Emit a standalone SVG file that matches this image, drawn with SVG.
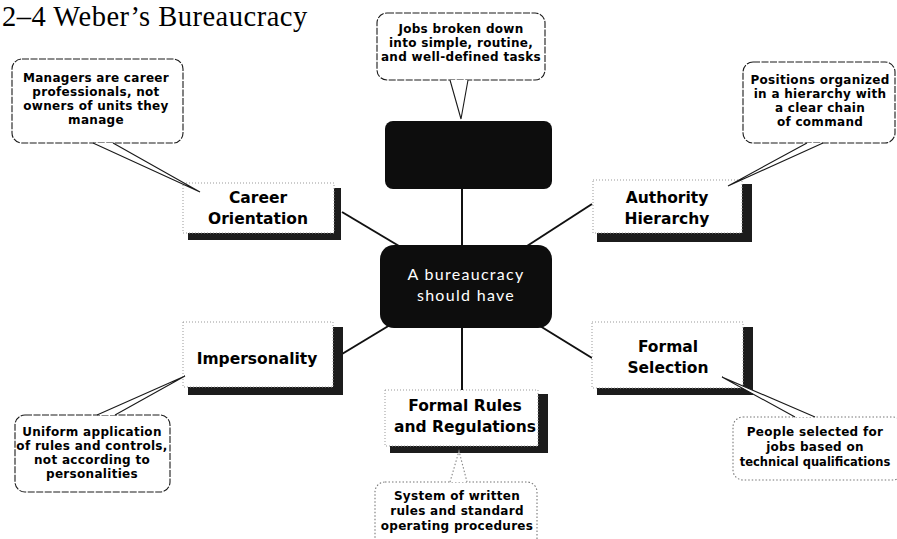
<svg xmlns="http://www.w3.org/2000/svg" width="897" height="539" viewBox="0 0 897 539">
  <defs>
    <filter id="soft" x="-20%" y="-20%" width="140%" height="140%">
      <feGaussianBlur stdDeviation="0.7"/>
    </filter>
  </defs>
  <style>
    .title { font-family: "Liberation Serif", "Times New Roman", serif; font-size: 28.5px; fill: #000; letter-spacing: 0.5px; }
    .node-face { fill: #fff; stroke: #999; stroke-width: 1; stroke-dasharray: 1 2; }
    .node-shadow { fill: #1e1e1e; filter: url(#soft); }
    .node-text { font-family: "DejaVu Sans", "Liberation Sans", sans-serif; font-weight: bold; font-size: 15.5px; fill: #000; text-anchor: middle; }
    .hub { fill: #0d0d0d; }
    .hub-text { font-family: Lato, "Open Sans", sans-serif; font-size: 16px; fill: #fff; text-anchor: middle; letter-spacing: 1.3px; }
    .bubble { fill: #fff; stroke: #1a1a1a; stroke-width: 1.1; stroke-dasharray: 7 1.5; }
    .bubble.faint { stroke: #777; stroke-dasharray: 1.5 2; }
    .tail { fill: #fff; stroke: #1a1a1a; stroke-width: 1.1; }
    .tail.faint { stroke: #888; stroke-dasharray: 1.5 2; }
    .bubble-text { font-family: "DejaVu Sans", "Liberation Sans", sans-serif; font-weight: bold; font-size: 12px; fill: #000; text-anchor: middle; letter-spacing: 0.3px; }
    .bubble-text.tight { font-size: 11.5px; letter-spacing: 0; }
    .link { stroke: #111; stroke-width: 2; fill: none; }
  </style>

  <text class="title" x="2" y="26">2–4 Weber’s Bureaucracy</text>

  <!-- spokes from the hub -->
  <g id="connectors">
    <line class="link" x1="462" y1="187" x2="462" y2="246"/>
    <line class="link" x1="342" y1="212" x2="399" y2="246"/>
    <line class="link" x1="592" y1="204" x2="527" y2="246"/>
    <line class="link" x1="342" y1="354" x2="390" y2="325"/>
    <line class="link" x1="592" y1="358" x2="540" y2="326"/>
    <line class="link" x1="462" y1="328" x2="462" y2="390"/>
  </g>

  <!-- central hub -->
  <g id="hub">
    <rect class="hub" x="380" y="245" width="172" height="83" rx="14"/>
    <text class="hub-text" x="466" y="280">A bureaucracy</text>
    <text class="hub-text" x="466" y="301">should have</text>
  </g>

  <!-- top node (solid black) -->
  <g id="node-top">
    <rect class="hub" x="385" y="121" width="167" height="68" rx="8"/>
  </g>

  <g id="node-career">
    <rect class="node-shadow" x="334" y="188" width="7" height="52"/>
    <rect class="node-shadow" x="188" y="233" width="153" height="7"/>
    <rect class="node-face" x="183" y="183" width="151" height="50"/>
    <text class="node-text" x="258" y="203">Career</text>
    <text class="node-text" x="258" y="224">Orientation</text>
  </g>

  <g id="node-authority">
    <rect class="node-shadow" x="742" y="184" width="10" height="58"/>
    <rect class="node-shadow" x="597" y="233" width="155" height="9"/>
    <rect class="node-face" x="593" y="180" width="149" height="53"/>
    <text class="node-text" x="667" y="203">Authority</text>
    <text class="node-text" x="667" y="224">Hierarchy</text>
  </g>

  <g id="node-impersonality">
    <rect class="node-shadow" x="333" y="327" width="10" height="68"/>
    <rect class="node-shadow" x="188" y="387" width="155" height="8"/>
    <rect class="node-face" x="183" y="322" width="150" height="65"/>
    <text class="node-text" x="257" y="364">Impersonality</text>
  </g>

  <g id="node-selection">
    <rect class="node-shadow" x="743" y="327" width="10" height="68"/>
    <rect class="node-shadow" x="597" y="388" width="156" height="7"/>
    <rect class="node-face" x="592" y="322" width="151" height="66"/>
    <text class="node-text" x="668" y="352">Formal</text>
    <text class="node-text" x="668" y="373">Selection</text>
  </g>

  <g id="node-rules">
    <rect class="node-shadow" x="538" y="394" width="10" height="59"/>
    <rect class="node-shadow" x="390" y="446" width="158" height="7"/>
    <rect class="node-face" x="385" y="390" width="153" height="56"/>
    <text class="node-text" x="465" y="411">Formal Rules</text>
    <text class="node-text" x="465" y="432">and Regulations</text>
  </g>

  <!-- callouts -->
  <g id="callout-top">
    <rect class="bubble" x="377" y="13" width="168" height="67" rx="10"/>
    <path class="tail" d="M450 80 L461 119 L468 80"/>
    <text class="bubble-text" x="461" y="33">Jobs broken down</text>
    <text class="bubble-text" x="461" y="47">into simple, routine,</text>
    <text class="bubble-text" x="461" y="61">and well-defined tasks</text>
  </g>

  <g id="callout-career">
    <rect class="bubble" x="12" y="59" width="171" height="84" rx="10"/>
    <path class="tail" d="M93 143 L200 192 L113 143"/>
    <text class="bubble-text" x="96" y="82">Managers are career</text>
    <text class="bubble-text" x="96" y="96">professionals, not</text>
    <text class="bubble-text" x="96" y="110">owners of units they</text>
    <text class="bubble-text" x="96" y="124">manage</text>
  </g>

  <g id="callout-authority">
    <rect class="bubble" x="743" y="62" width="152" height="81" rx="10"/>
    <path class="tail" d="M807 143 L728 186 L823 143"/>
    <text class="bubble-text" x="820" y="84">Positions organized</text>
    <text class="bubble-text" x="820" y="98">in a hierarchy with</text>
    <text class="bubble-text" x="820" y="112">a clear chain</text>
    <text class="bubble-text" x="820" y="126">of command</text>
  </g>

  <g id="callout-impersonality">
    <rect class="bubble" x="15" y="415" width="155" height="77" rx="10"/>
    <path class="tail" d="M97 415 L185 376 L115 415"/>
    <text class="bubble-text" x="92" y="436">Uniform application</text>
    <text class="bubble-text" x="92" y="450">of rules and controls,</text>
    <text class="bubble-text" x="92" y="464">not according to</text>
    <text class="bubble-text" x="92" y="478">personalities</text>
  </g>

  <g id="callout-rules">
    <rect class="bubble faint" x="375" y="482" width="162" height="70" rx="10"/>
    <path class="tail faint" d="M450 482 L459 451 L467 482"/>
    <text class="bubble-text" x="457" y="500">System of written</text>
    <text class="bubble-text" x="457" y="515">rules and standard</text>
    <text class="bubble-text" x="457" y="530">operating procedures</text>
  </g>

  <g id="callout-selection">
    <rect class="bubble faint" x="733" y="417" width="170" height="63" rx="10"/>
    <path class="tail" d="M795 417 L722 377 L815 417"/>
    <text class="bubble-text" x="815" y="436">People selected for</text>
    <text class="bubble-text" x="815" y="451">jobs based on</text>
    <text class="bubble-text tight" x="815" y="466">technical qualifications</text>
  </g>
</svg>
